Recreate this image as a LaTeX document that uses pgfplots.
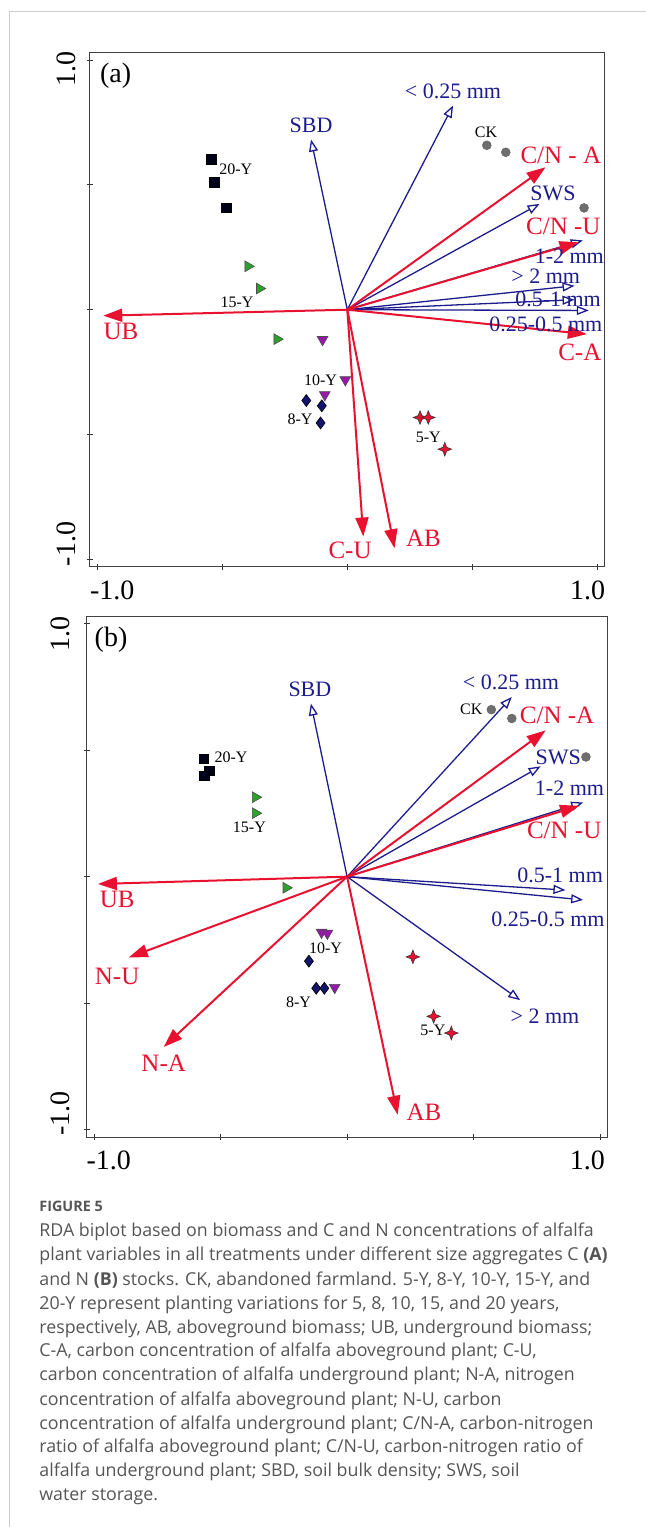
\documentclass[border=0pt]{standalone}
\usepackage{fontspec}
\setmainfont{Liberation Serif}
\newfontfamily\capfont{Open Sans}
\usepackage{pgfplots}
\pgfplotsset{compat=1.18}
\usetikzlibrary{arrows.meta}

\definecolor{rdared}{RGB}{232,18,48}
\definecolor{rdablue}{RGB}{28,28,140}
\definecolor{ckgrey}{RGB}{110,110,110}
\definecolor{grn}{RGB}{45,160,45}
\definecolor{purp}{RGB}{150,25,170}
\definecolor{navy}{RGB}{20,20,110}
\definecolor{capgray}{RGB}{85,85,85}

\pgfdeclareplotmark{star4}{%
  \pgfpathmoveto{\pgfqpoint{0pt}{\pgfplotmarksize}}%
  \pgfpathlineto{\pgfqpoint{0.28\pgfplotmarksize}{0.28\pgfplotmarksize}}%
  \pgfpathlineto{\pgfqpoint{\pgfplotmarksize}{0pt}}%
  \pgfpathlineto{\pgfqpoint{0.28\pgfplotmarksize}{-0.28\pgfplotmarksize}}%
  \pgfpathlineto{\pgfqpoint{0pt}{-\pgfplotmarksize}}%
  \pgfpathlineto{\pgfqpoint{-0.28\pgfplotmarksize}{-0.28\pgfplotmarksize}}%
  \pgfpathlineto{\pgfqpoint{-\pgfplotmarksize}{0pt}}%
  \pgfpathlineto{\pgfqpoint{-0.28\pgfplotmarksize}{0.28\pgfplotmarksize}}%
  \pgfpathclose
  \pgfusepathqfillstroke}

\pgfplotsset{
  rdaaxis/.style={
    scale only axis, clip=false,
    xmin=-1.03, xmax=1.03, ymin=-1.03, ymax=1.03,
    xtick={-1,-0.5,0,0.5,1}, ytick={-1,-0.5,0,0.5,1},
    xticklabels={}, yticklabels={},
    xtick pos=lower, ytick pos=left,
    tick align=center, major tick length=3pt,
    axis line style={draw=black!75, line width=0.5pt},
    tick style={black!80, line width=0.5pt},
  },
  redarrow/.style={draw=rdared, line width=1pt, no markers,
    -{Triangle[length=9.5pt,width=6.5pt]}},
  bluearrow/.style={draw=rdablue, line width=0.65pt, no markers,
    -{Triangle[open,length=6pt,width=4.5pt]}},
  ckmark/.style={only marks, mark=*, mark size=2.2pt, mark options={fill=ckgrey, draw=black!60, line width=0.3pt}},
  ymark20/.style={only marks, mark=square*, mark size=2.4pt, mark options={fill=black!90!blue, draw=black, line width=0.3pt}},
  ymark15/.style={only marks, mark=triangle*, mark size=3.1pt, mark options={rotate=-90, fill=grn, draw=black!70, line width=0.3pt}},
  ymark10/.style={only marks, mark=triangle*, mark size=3.1pt, mark options={rotate=180, fill=purp, draw=black!70, line width=0.3pt}},
  ymark8/.style={only marks, mark=diamond*, mark size=3.0pt, mark options={fill=navy, draw=black, line width=0.3pt}},
  ymark5/.style={only marks, mark=star4, mark size=3.4pt, mark options={fill=rdared, draw=black!80, line width=0.3pt}},
}
\tikzset{
  lred/.style={text=rdared, font=\fontsize{12.5}{14}\selectfont, inner sep=0pt},
  lblue/.style={text=rdablue, font=\fontsize{11}{13}\selectfont, inner sep=0pt},
  lsamp/.style={text=black, font=\fontsize{8}{9}\selectfont, inner sep=0pt},
  ltick/.style={text=black, font=\fontsize{14}{15}\selectfont, inner sep=0pt},
  lpanel/.style={text=black, font=\fontsize{14}{16}\selectfont, inner sep=0pt},
  capline/.style={anchor=base west, inner sep=0pt, text=capgray, font=\capfont\fontsize{8.9}{12}\selectfont},
}

\begin{document}
\begin{tikzpicture}
\useasboundingbox (0,0) rectangle (323pt,-763.5pt);
\draw[black!20, line width=0.5pt] (4.5pt,-763.5pt) -- (4.5pt,-5.65pt) -- (323pt,-5.65pt);

% ---------------- Panel (a) ----------------
\begin{axis}[rdaaxis, at={(44.9pt,-283.35pt)}, anchor=south west, width=257.5pt, height=257pt]
\addplot[bluearrow] coordinates {(0,0) (0.423,0.818)};
\addplot[bluearrow] coordinates {(0,0) (-0.145,0.682)};
\addplot[bluearrow] coordinates {(0,0) (0.769,0.424)};
\addplot[bluearrow] coordinates {(0,0) (0.942,0.278)};
\addplot[bluearrow] coordinates {(0,0) (0.909,0.096)};
\addplot[bluearrow] coordinates {(0,0) (0.909,0.040)};
\addplot[bluearrow] coordinates {(0,0) (0.966,-0.003)};
\addplot[redarrow] coordinates {(0,0) (0.793,0.571)};
\addplot[redarrow] coordinates {(0,0) (0.925,0.270)};
\addplot[redarrow] coordinates {(0,0) (-0.976,-0.024)};
\addplot[redarrow] coordinates {(0,0) (0.958,-0.098)};
\addplot[redarrow] coordinates {(0,0) (0.064,-0.909)};
\addplot[redarrow] coordinates {(0,0) (0.189,-0.956)};

\addplot[ckmark] coordinates {(0.558,0.659) (0.634,0.631) (0.947,0.408)};
\addplot[ymark20] coordinates {(-0.545,0.602) (-0.532,0.511) (-0.484,0.408)};
\addplot[ymark15] coordinates {(-0.397,0.174) (-0.351,0.085) (-0.281,-0.118)};
\addplot[ymark10] coordinates {(-0.099,-0.120) (-0.008,-0.281) (-0.090,-0.341)};
\addplot[ymark8] coordinates {(-0.164,-0.364) (-0.102,-0.385) (-0.107,-0.454)};
\addplot[ymark5] coordinates {(0.291,-0.432) (0.324,-0.432) (0.390,-0.559)};

\node[lblue] at (axis cs:0.423,0.876) {< 0.25 mm};
\node[lblue] at (axis cs:-0.145,0.738) {SBD};
\node[lsamp] at (axis cs:0.555,0.711) {CK};
\node[lred] at (axis cs:0.854,0.619) {C/N - A};
\node[lblue] at (axis cs:0.823,0.465) {SWS};
\node[lred] at (axis cs:0.864,0.334) {C/N -U};
\node[lblue] at (axis cs:0.888,0.214) {1-2 mm};
\node[lblue] at (axis cs:0.794,0.133) {> 2 mm};
\node[lblue] at (axis cs:0.843,0.040) {0.5-1 mm};
\node[lblue] at (axis cs:0.794,-0.060) {0.25-0.5 mm};
\node[lred] at (axis cs:0.930,-0.171) {C-A};
\node[lred] at (axis cs:-0.905,-0.089) {UB};
\node[lred] at (axis cs:0.011,-0.963) {C-U};
\node[lred] at (axis cs:0.305,-0.916) {AB};
\node[lsamp] at (axis cs:-0.446,0.564) {20-Y};
\node[lsamp] at (axis cs:-0.441,0.029) {15-Y};
\node[lsamp] at (axis cs:-0.107,-0.281) {10-Y};
\node[lsamp] at (axis cs:-0.189,-0.438) {8-Y};
\node[lsamp] at (axis cs:0.324,-0.511) {5-Y};
\node[lpanel] at (axis cs:-0.927,0.936) {(a)};
\node[ltick] at (axis cs:-0.940,-1.123) {-1.0};
\node[ltick] at (axis cs:0.961,-1.123) {1.0};
\node[ltick, rotate=90] at (axis cs:-1.124,0.963) {1.0};
\node[ltick, rotate=90] at (axis cs:-1.124,-0.939) {-1.0};
\end{axis}

% ---------------- Panel (b) ----------------
\begin{axis}[rdaaxis, at={(43.25pt,-568.65pt)}, anchor=south west, width=260.6pt, height=260.65pt]
\addplot[bluearrow] coordinates {(0,0) (0.651,0.710)};
\addplot[bluearrow] coordinates {(0,0) (-0.143,0.684)};
\addplot[bluearrow] coordinates {(0,0) (0.765,0.436)};
\addplot[bluearrow] coordinates {(0,0) (0.933,0.293)};
\addplot[bluearrow] coordinates {(0,0) (0.863,-0.053)};
\addplot[bluearrow] coordinates {(0,0) (0.933,-0.092)};
\addplot[bluearrow] coordinates {(0,0) (0.684,-0.488)};
\addplot[redarrow] coordinates {(0,0) (0.785,0.578)};
\addplot[redarrow] coordinates {(0,0) (0.917,0.280)};
\addplot[redarrow] coordinates {(0,0) (-0.985,-0.029)};
\addplot[redarrow] coordinates {(0,0) (-0.863,-0.319)};
\addplot[redarrow] coordinates {(0,0) (-0.725,-0.673)};
\addplot[redarrow] coordinates {(0,0) (0.200,-0.941)};

\addplot[ckmark] coordinates {(0.570,0.660) (0.651,0.625) (0.944,0.473)};
\addplot[ymark20] coordinates {(-0.567,0.466) (-0.544,0.419) (-0.564,0.399)};
\addplot[ymark15] coordinates {(-0.362,0.314) (-0.362,0.251) (-0.241,-0.044)};
\addplot[ymark10] coordinates {(-0.101,-0.220) (-0.078,-0.224) (-0.049,-0.438)};
\addplot[ymark8] coordinates {(-0.151,-0.334) (-0.122,-0.441) (-0.090,-0.441)};
\addplot[ymark5] coordinates {(0.260,-0.317) (0.342,-0.552) (0.412,-0.618)};

\node[lpanel] at (axis cs:-0.933,0.937) {(b)};
\node[lblue] at (axis cs:-0.147,0.742) {SBD};
\node[lblue] at (axis cs:0.648,0.768) {< 0.25 mm};
\node[lsamp] at (axis cs:0.491,0.660) {CK};
\node[lred] at (axis cs:0.830,0.636) {C/N -A};
\node[lblue] at (axis cs:0.835,0.471) {SWS};
\node[lblue] at (axis cs:0.879,0.350) {1-2 mm};
\node[lred] at (axis cs:0.858,0.185) {C/N -U};
\node[lblue] at (axis cs:0.842,0.007) {0.5-1 mm};
\node[lblue] at (axis cs:0.794,-0.168) {0.25-0.5 mm};
\node[lred] at (axis cs:-0.909,-0.090) {UB};
\node[lred] at (axis cs:-0.909,-0.393) {N-U};
\node[lred] at (axis cs:-0.725,-0.737) {N-A};
\node[lred] at (axis cs:0.304,-0.933) {AB};
\node[lblue] at (axis cs:0.782,-0.550) {> 2 mm};
\node[lsamp] at (axis cs:-0.459,0.473) {20-Y};
\node[lsamp] at (axis cs:-0.386,0.196) {15-Y};
\node[lsamp] at (axis cs:-0.085,-0.281) {10-Y};
\node[lsamp] at (axis cs:-0.192,-0.497) {8-Y};
\node[lsamp] at (axis cs:0.339,-0.607) {5-Y};
\node[ltick] at (axis cs:-0.942,-1.122) {-1.0};
\node[ltick] at (axis cs:0.950,-1.122) {1.0};
\node[ltick, rotate=90] at (axis cs:-1.132,0.958) {1.0};
\node[ltick, rotate=90] at (axis cs:-1.132,-0.936) {-1.0};
\end{axis}

% ---------------- Caption ----------------
\node[anchor=base west, inner sep=0pt, text=capgray, font=\capfont\bfseries\fontsize{7.2}{8}\selectfont] at (19.5pt,-605.8pt) {FIGURE 5};
\node[capline] at (19.5pt,-618.3pt) {RDA biplot based on biomass and C and N concentrations of alfalfa};
\node[capline] at (19.5pt,-630.3pt) {plant variables in all treatments under different size aggregates C \textbf{(A)}};
\node[capline] at (19.5pt,-642.5pt) {and N \textbf{(B)} stocks. CK, abandoned farmland. 5-Y, 8-Y, 10-Y, 15-Y, and};
\node[capline] at (19.5pt,-654.5pt) {20-Y represent planting variations for 5, 8, 10, 15, and 20 years,};
\node[capline] at (19.5pt,-666.6pt) {respectively, AB, aboveground biomass; UB, underground biomass;};
\node[capline] at (19.5pt,-678.3pt) {C-A, carbon concentration of alfalfa aboveground plant; C-U,};
\node[capline] at (19.5pt,-690.3pt) {carbon concentration of alfalfa underground plant; N-A, nitrogen};
\node[capline] at (19.5pt,-702.5pt) {concentration of alfalfa aboveground plant; N-U, carbon};
\node[capline] at (19.5pt,-714.5pt) {concentration of alfalfa underground plant; C/N-A, carbon-nitrogen};
\node[capline] at (19.5pt,-726.3pt) {ratio of alfalfa aboveground plant; C/N-U, carbon-nitrogen ratio of};
\node[capline] at (19.5pt,-738.3pt) {alfalfa underground plant; SBD, soil bulk density; SWS, soil};
\node[capline] at (19.5pt,-750.3pt) {water storage.};
\end{tikzpicture}
\end{document}
